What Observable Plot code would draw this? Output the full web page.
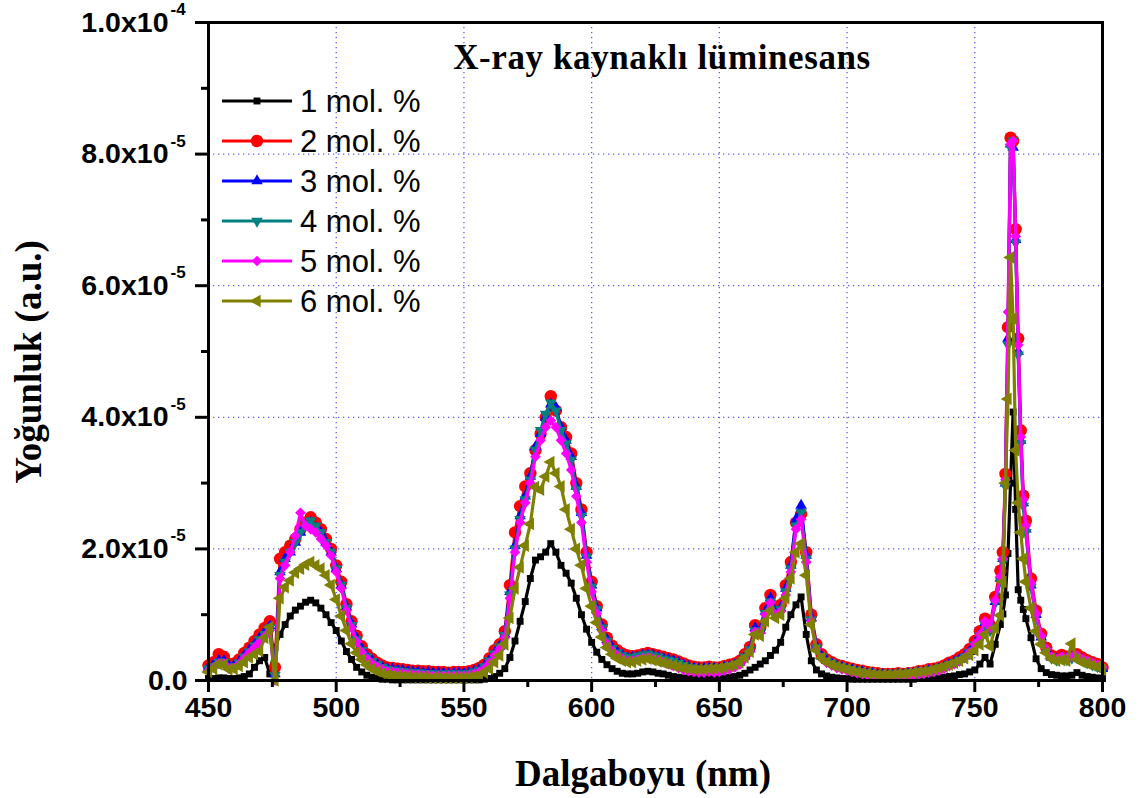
<!DOCTYPE html>
<html>
<head>
<meta charset="utf-8">
<script src="https://cdn.jsdelivr.net/npm/d3@7"></script>
<script src="https://cdn.jsdelivr.net/npm/@observablehq/plot@0.6"></script>
<style>
  html, body { margin: 0; padding: 0; background: #fff; }
  #wrap { position: relative; width: 1138px; height: 798px; overflow: hidden; }
  .ov { position: absolute; white-space: nowrap; color: #000; }
</style>
</head>
<body>
<div id="wrap"></div>
<script>
// ---------------- data (intensity in units of 1e-6 a.u.) ----------------
const UNIT = 1e-6;
const wavelength = [
  450,452,454,456,458,460,462,464,466,468,
  470,472,474,476,478,480,482,484,486,488,
  490,492,494,496,498,500,502,504,506,508,
  510,512,514,516,518,520,522,524,526,528,
  530,532,534,536,538,540,542,544,546,548,
  550,552,554,556,558,560,562,564,566,568,
  570,572,574,576,578,580,582,584,586,588,
  590,592,594,596,598,600,602,604,606,608,
  610,612,614,616,618,620,622,624,626,628,
  630,632,634,636,638,640,642,644,646,648,
  650,652,654,656,658,660,662,664,666,668,
  670,672,674,676,678,680,682,684,686,688,
  690,692,694,696,698,700,702,704,706,708,
  710,712,714,716,718,720,722,724,726,728,
  730,732,734,736,738,740,742,744,746,748,
  750,752,754,756,758,760,
  761,762,763,764,765,766,767,768,769,770,
  772,774,776,778,780,782,784,786,788,790,792,794,796,798,800
];
const mol1 = [
  0.3,0.3,0.4,0.4,0.3,0.3,0.4,0.6,1.0,2.0,
  3.0,3.5,1.0,5.0,7.0,8.5,9.8,10.7,11.3,11.9,
  12.2,11.8,11.0,10.0,8.8,7.6,6.0,4.4,3.2,2.0,
  1.3,0.8,0.5,0.3,0.2,0.2,0.1,0.1,0.1,0.1,
  0.1,0.1,0.1,0.1,0.1,0.1,0.1,0.1,0.1,0.1,
  0.1,0.1,0.1,0.1,0.2,0.3,0.6,1.1,1.8,3.5,
  6.0,9.0,12.0,15.5,18.3,18.8,19.5,20.8,19.5,17.5,
  16.3,14.8,12.5,10.0,7.8,5.8,4.3,3.2,2.4,1.8,
  1.4,1.1,1.0,1.0,1.1,1.3,1.4,1.3,1.1,1.0,
  0.8,0.6,0.5,0.4,0.3,0.3,0.3,0.3,0.3,0.3,
  0.3,0.4,0.5,0.6,0.8,1.1,1.6,2.0,2.5,3.0,
  3.8,4.6,5.8,8.1,10.0,11.5,12.7,7.0,3.0,1.6,
  1.0,0.7,0.5,0.4,0.3,0.3,0.2,0.2,0.2,0.2,
  0.2,0.2,0.2,0.2,0.2,0.2,0.2,0.2,0.2,0.3,
  0.3,0.3,0.4,0.4,0.5,0.6,0.7,0.9,1.0,1.3,
  1.6,2.5,3.5,2.5,5.5,8.5,
  10.1,13.0,19.3,30.0,40.8,26.0,13.8,12.2,10.8,9.4,
  6.5,3.3,1.8,1.2,0.9,0.8,0.7,0.7,0.8,1.2,0.8,0.6,0.5,0.4,0.3
];
const mol2 = [
  2.3,2.8,4.0,3.6,2.5,2.6,3.2,4.2,5.0,6.0,
  7.0,8.0,9.0,2.0,18.5,19.5,20.5,21.5,23.0,24.0,
  24.8,24.0,23.0,21.5,20.0,17.5,15.0,11.6,9.0,6.8,
  5.2,4.0,3.3,2.7,2.3,2.0,1.9,1.8,1.7,1.6,
  1.5,1.5,1.4,1.4,1.3,1.3,1.3,1.2,1.3,1.3,
  1.3,1.4,1.6,1.9,2.4,3.4,4.6,5.5,7.5,14.5,
  22.5,26.5,29.5,31.5,35.0,37.5,40.0,43.2,41.0,38.5,
  37.0,34.5,30.0,26.0,19.5,15.0,11.3,8.5,6.5,5.3,
  4.6,4.1,3.8,3.7,3.8,4.0,4.2,4.0,3.8,3.6,
  3.4,3.2,2.9,2.6,2.3,2.1,2.0,2.0,2.1,2.0,
  2.0,2.2,2.4,2.6,3.0,4.0,5.1,8.4,8.0,11.0,
  13.0,10.8,11.5,14.5,18.0,24.0,25.3,19.5,10.0,5.5,
  4.0,3.2,2.8,2.4,2.2,2.0,1.8,1.6,1.5,1.3,
  1.2,1.1,1.0,1.0,1.0,1.1,1.0,1.1,1.2,1.4,
  1.5,1.7,1.8,2.0,2.3,2.7,3.0,3.5,4.0,4.8,
  6.0,7.5,9.4,8.4,12.7,16.7,
  19.5,31.4,53.7,82.5,82.0,68.6,52.0,38.0,28.1,24.3,
  15.5,10.6,7.1,5.0,3.8,3.5,3.9,3.6,3.8,4.0,3.5,3.1,2.8,2.5,2.0
];
const mol3 = [
  2.0,2.4,3.0,3.0,2.2,2.3,2.9,3.8,4.6,5.5,
  6.5,7.4,8.3,1.0,16.5,18.5,19.5,21.0,22.5,23.5,
  24.0,23.2,22.5,21.0,19.5,17.0,14.5,11.2,8.6,6.4,
  4.8,3.7,3.0,2.5,2.1,1.8,1.7,1.6,1.5,1.4,
  1.3,1.3,1.2,1.2,1.1,1.1,1.1,1.0,1.1,1.1,
  1.1,1.2,1.4,1.7,2.2,3.1,4.2,5.2,7.0,13.5,
  20.5,25.0,28.0,31.0,35.5,37.5,40.0,42.0,41.5,38.5,
  36.5,34.0,29.5,25.5,19.0,14.5,11.0,8.2,6.2,5.0,
  4.3,3.8,3.5,3.5,3.6,3.8,3.9,3.8,3.6,3.4,
  3.2,3.0,2.7,2.4,2.1,1.9,1.8,1.8,1.9,1.8,
  1.8,2.0,2.2,2.4,2.8,3.7,4.8,8.0,7.6,10.5,
  12.5,10.5,11.0,14.0,17.5,24.5,26.6,19.0,9.5,5.2,
  3.7,3.0,2.6,2.2,2.0,1.8,1.6,1.4,1.3,1.1,
  1.0,0.9,0.9,0.8,0.8,0.9,0.9,1.0,1.1,1.2,
  1.3,1.5,1.6,1.8,2.1,2.5,2.8,3.2,3.7,4.4,
  5.5,7.0,8.8,7.8,12.0,15.5,
  18.5,30.0,52.0,81.5,81.0,67.0,50.0,36.5,27.0,23.0,
  14.5,10.0,6.6,4.6,3.5,3.2,3.5,3.3,3.5,3.6,3.2,2.8,2.5,2.2,1.8
];
const mol4 = [
  1.8,2.2,2.8,2.8,2.0,2.1,2.7,3.6,4.4,5.3,
  6.2,7.0,8.0,0.8,16.0,18.0,19.5,21.0,22.5,23.8,
  24.3,23.5,22.5,21.0,19.5,17.0,14.5,11.0,8.4,6.2,
  4.6,3.6,2.9,2.4,2.0,1.7,1.6,1.5,1.4,1.3,
  1.2,1.2,1.1,1.1,1.0,1.0,1.0,1.0,1.0,1.0,
  1.0,1.1,1.3,1.6,2.1,3.0,4.1,5.1,6.9,13.0,
  20.0,24.5,27.5,30.5,35.0,38.0,40.5,42.2,41.0,38.0,
  36.0,33.5,29.0,25.0,18.8,14.2,10.8,8.0,6.0,4.9,
  4.2,3.8,3.5,3.5,3.7,3.9,4.0,3.8,3.6,3.3,
  3.1,2.9,2.6,2.3,2.0,1.8,1.7,1.7,1.8,1.7,
  1.7,1.9,2.1,2.3,2.7,3.6,4.7,7.6,7.4,10.2,
  12.0,10.2,10.8,13.5,17.0,23.5,25.5,18.5,9.2,5.0,
  3.6,2.9,2.5,2.1,1.9,1.7,1.5,1.3,1.2,1.0,
  0.9,0.8,0.8,0.7,0.7,0.8,0.8,0.9,1.0,1.1,
  1.2,1.4,1.5,1.7,2.0,2.4,2.7,3.1,3.6,4.3,
  5.4,6.8,8.5,7.6,11.8,15.2,
  18.0,29.5,51.0,81.0,82.0,66.5,49.5,36.0,26.5,22.5,
  14.2,9.8,6.4,4.5,3.4,3.1,3.4,3.2,3.4,3.5,3.1,2.7,2.4,2.1,1.7
];
const mol5 = [
  1.5,2.0,2.6,2.6,1.8,1.9,2.5,3.4,4.2,5.0,
  5.8,6.7,7.6,0.0,15.5,17.5,19.5,22.0,25.5,23.5,
  23.0,22.5,21.5,20.5,19.0,16.5,14.0,10.6,8.0,5.9,
  4.3,3.3,2.6,2.1,1.7,1.4,1.3,1.2,1.1,1.0,
  0.9,0.9,0.8,0.8,0.7,0.7,0.7,0.7,0.7,0.7,
  0.7,0.8,1.0,1.3,1.8,2.7,3.8,4.8,6.5,12.5,
  19.5,24.0,27.0,30.0,34.0,36.5,38.5,39.5,38.5,36.5,
  34.5,32.0,28.0,24.0,18.0,13.5,10.2,7.6,5.6,4.5,
  3.8,3.3,3.0,3.0,3.2,3.4,3.5,3.3,3.1,2.8,
  2.5,2.2,1.9,1.6,1.4,1.3,1.2,1.2,1.3,1.2,
  1.3,1.5,1.7,2.0,2.4,3.3,4.4,7.4,7.2,10.0,
  11.8,10.0,10.5,13.0,16.5,23.0,24.5,18.0,9.0,4.8,
  3.4,2.7,2.3,1.9,1.7,1.5,1.3,1.1,1.0,0.8,
  0.7,0.6,0.6,0.5,0.5,0.6,0.6,0.7,0.8,0.9,
  1.0,1.2,1.3,1.5,1.8,2.2,2.5,2.9,3.5,4.3,
  5.5,7.0,9.0,8.0,12.2,15.8,
  18.5,30.5,56.0,81.5,82.0,67.5,51.0,37.0,27.5,23.5,
  14.8,10.2,6.8,4.8,3.6,3.3,3.6,3.4,3.6,3.8,3.3,3.0,2.7,2.4,2.0
];
const mol6 = [
  1.3,1.8,2.5,2.4,1.7,1.8,2.2,2.8,3.5,4.0,
  4.5,6.5,8.1,0.0,12.5,14.2,15.2,16.4,17.0,17.6,
  18.0,17.5,17.0,16.0,14.5,12.3,9.8,7.6,5.6,4.2,
  3.2,2.4,1.8,1.4,1.1,0.9,0.8,0.7,0.6,0.6,
  0.5,0.5,0.5,0.4,0.4,0.4,0.4,0.4,0.4,0.4,
  0.4,0.5,0.6,0.8,1.2,1.8,2.8,3.8,5.5,9.5,
  14.0,17.2,20.5,23.8,29.4,29.0,31.0,33.2,31.5,29.5,
  26.0,23.0,20.0,17.5,14.0,11.3,8.8,6.6,5.0,4.0,
  3.4,3.0,2.8,2.8,3.0,3.2,3.3,3.1,2.9,2.7,
  2.5,2.3,2.1,1.9,1.8,1.7,1.7,1.7,1.8,1.8,
  1.9,2.0,2.2,2.4,2.8,3.5,4.4,7.0,6.8,9.0,
  10.6,9.5,10.0,12.5,15.5,19.5,20.8,16.0,8.5,4.6,
  3.4,2.8,2.4,2.1,1.9,1.7,1.5,1.3,1.2,1.1,
  1.0,0.9,0.9,0.9,0.9,1.0,1.0,1.1,1.2,1.3,
  1.4,1.5,1.7,1.9,2.1,2.4,2.7,3.0,3.4,3.9,
  4.6,5.5,7.0,5.2,8.0,9.9,
  15.0,30.0,42.8,64.3,55.0,35.0,27.0,22.5,18.5,15.0,
  11.0,7.5,5.5,4.2,3.3,3.0,3.1,3.0,5.6,3.2,2.8,2.6,2.3,2.1,1.7
];
const seriesNames = ["1 mol. %","2 mol. %","3 mol. %","4 mol. %","5 mol. %","6 mol. %"];
const seriesValues = [mol1, mol2, mol3, mol4, mol5, mol6];
const seriesColors = ["#000000","#ff0000","#0000ff","#008080","#ff00ff","#808000"];

// axis ticks
const xMajor = [450,500,550,600,650,700,750,800];
const xMinor = [475,525,575,625,675,725,775];
const xGrid = [500,550,600,650,700,750];
const yMajor = [0, 2e-5, 4e-5, 6e-5, 8e-5, 1e-4];
const yMinor = [1e-5, 3e-5, 5e-5, 7e-5, 9e-5];
const yGrid = [2e-5, 4e-5, 6e-5, 8e-5];
const yTickBase = ["0.0","2.0x10","4.0x10","6.0x10","8.0x10","1.0x10"];
const yTickExp  = ["","-5","-5","-5","-5","-4"];

const chartTitle = "X-ray kaynaklı lüminesans";
const xTitle = "Dalgaboyu (nm)";
const yTitle = "Yoğunluk (a.u.)";

// ---------------- symbols ----------------
const triDown = {draw(ctx, size) {
  const s = Math.sqrt(4 * size / Math.sqrt(3)), h = s * Math.sqrt(3) / 2;
  ctx.moveTo(0, 2*h/3); ctx.lineTo(-s/2, -h/3); ctx.lineTo(s/2, -h/3); ctx.closePath();
}};
const triLeft = {draw(ctx, size) {
  const s = Math.sqrt(4 * size / Math.sqrt(3)), h = s * Math.sqrt(3) / 2;
  ctx.moveTo(-2*h/3, 0); ctx.lineTo(h/3, -s/2); ctx.lineTo(h/3, s/2); ctx.closePath();
}};
const seriesSymbols = ["square","circle","triangle", triDown, "diamond2", triLeft];
const d3Symbols = [d3.symbolSquare, d3.symbolCircle, d3.symbolTriangle, triDown, d3.symbolDiamond2, triLeft];
const seriesR = [3.9, 6.2, 4.3, 4.3, 4.8, 4.7];

// ---------------- build ----------------
const tables = seriesValues.map((vals, si) =>
  vals.map((v, i) => ({wl: wavelength[i], v: v * UNIT, s: seriesNames[si]})));

const marks = [
  Plot.gridX(xGrid, {stroke: "#4b4bff", strokeOpacity: 0.9, strokeWidth: 1.3, strokeDasharray: "1.3,3.7"}),
  Plot.gridY(yGrid, {stroke: "#4b4bff", strokeOpacity: 0.9, strokeWidth: 1.3, strokeDasharray: "1.3,3.7"}),
];
tables.forEach((t, si) => {
  marks.push(Plot.line(t, {x: "wl", y: "v", stroke: seriesColors[si], strokeWidth: 3.2}));
  marks.push(Plot.dot(t, {x: "wl", y: "v", fill: seriesColors[si], stroke: "none", symbol: seriesSymbols[si], r: seriesR[si]}));
});
marks.push(
  Plot.frame({stroke: "#000", strokeWidth: 3}),
  Plot.axisX(xMajor, {tickSize: 12, strokeWidth: 3, tickFormat: () => "", label: null}),
  Plot.axisX(xMinor, {tickSize: 7, strokeWidth: 3, tickFormat: () => "", label: null}),
  Plot.axisY(yMajor, {tickSize: 13, strokeWidth: 3, tickFormat: () => "", label: null}),
  Plot.axisY(yMinor, {tickSize: 7, strokeWidth: 3, tickFormat: () => "", label: null}),
  Plot.text(xMajor, {x: d => d, frameAnchor: "bottom", dy: 27, lineAnchor: "middle", text: d => String(d),
    fontSize: 28.5, fontWeight: "bold", fill: "#000"}),
  Plot.text([0], {y: d => yMajor[d], frameAnchor: "left", dx: -21, textAnchor: "end", lineAnchor: "middle",
    text: d => yTickBase[d], fontSize: 28.5, fontWeight: "bold", fill: "#000"}),
  Plot.text([1,2,3,4,5], {y: d => yMajor[d], frameAnchor: "left", dx: -40, textAnchor: "end", lineAnchor: "middle",
    text: d => yTickBase[d], fontSize: 28.5, fontWeight: "bold", fill: "#000"}),
  Plot.text([1,2,3,4,5], {y: d => yMajor[d], frameAnchor: "left", dx: -38, dy: -13, textAnchor: "start", lineAnchor: "middle",
    text: d => yTickExp[d], fontSize: 17, fontWeight: "bold", fill: "#000"})
);

const chart = Plot.plot({
  width: 1138, height: 798,
  marginLeft: 208, marginRight: 36, marginTop: 22, marginBottom: 118,
  x: {domain: [450, 800]},
  y: {domain: [0, 1e-4]},
  style: {fontFamily: "'Liberation Sans', Arial, sans-serif", background: "#fff", overflow: "visible"},
  marks
});

const wrap = document.getElementById("wrap");
wrap.appendChild(chart);

function addDiv(text, css) {
  const d = document.createElement("div");
  d.className = "ov";
  d.textContent = text;
  Object.assign(d.style, css);
  wrap.appendChild(d);
  return d;
}
// chart title
addDiv(chartTitle, {left: "662px", top: "58px", transform: "translate(-50%,-50%)",
  font: "bold 35px 'Liberation Serif', 'Times New Roman', serif", letterSpacing: "0.6px"});
// x title
addDiv(xTitle, {left: "643px", top: "773px", transform: "translate(-50%,-50%)",
  font: "bold 37px 'Liberation Serif', 'Times New Roman', serif"});
// y title
addDiv(yTitle, {left: "28px", top: "362px", transform: "translate(-50%,-50%) rotate(-90deg)",
  font: "bold 37px 'Liberation Serif', 'Times New Roman', serif"});

// legend
const ns = "http://www.w3.org/2000/svg";
seriesNames.forEach((name, si) => {
  const cy = 101 + si * 40;
  const svg = document.createElementNS(ns, "svg");
  svg.setAttribute("width", 80); svg.setAttribute("height", 24);
  svg.style.position = "absolute"; svg.style.left = "218px"; svg.style.top = (cy - 12) + "px";
  const ln = document.createElementNS(ns, "line");
  ln.setAttribute("x1", 4); ln.setAttribute("x2", 74); ln.setAttribute("y1", 12); ln.setAttribute("y2", 12);
  ln.setAttribute("stroke", seriesColors[si]); ln.setAttribute("stroke-width", 3);
  svg.appendChild(ln);
  const p = document.createElementNS(ns, "path");
  p.setAttribute("d", d3.symbol(d3Symbols[si], Math.PI * seriesR[si] * seriesR[si])());
  p.setAttribute("transform", "translate(39,12)");
  p.setAttribute("fill", seriesColors[si]);
  svg.appendChild(p);
  wrap.appendChild(svg);
  addDiv(name, {left: "300px", top: cy + "px", transform: "translateY(-50%)",
    font: "31px 'Liberation Sans', Arial, sans-serif", lineHeight: "1"});
});
</script>
</body>
</html>
